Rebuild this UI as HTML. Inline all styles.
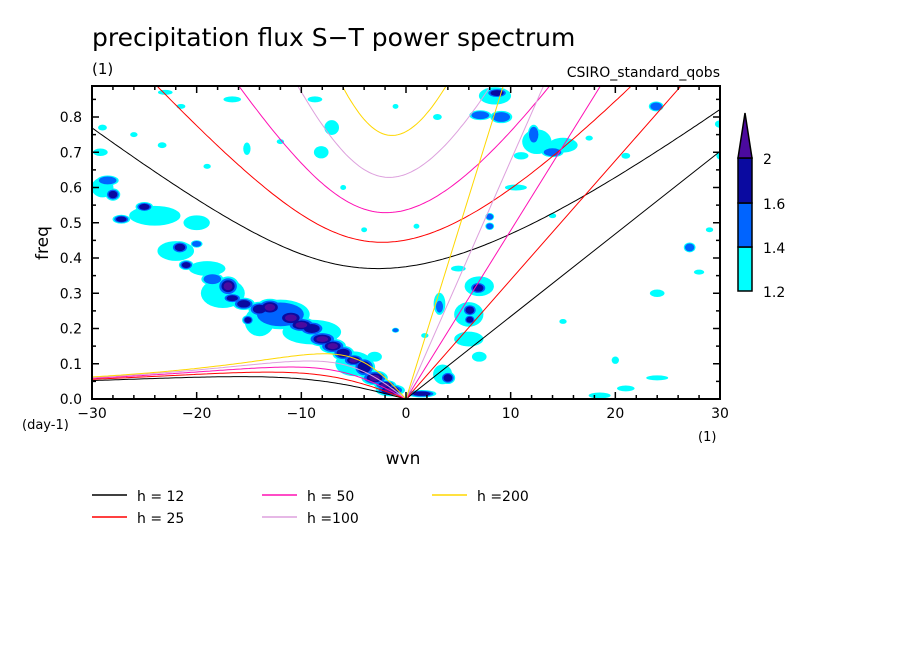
<!DOCTYPE html>
<html><head><meta charset="utf-8"><style>
body{margin:0;background:#fff;width:904px;height:654px;overflow:hidden}
svg{display:block;font-family:"DejaVu Sans","Liberation Sans",sans-serif}
</style></head><body>
<svg id="chart" width="904" height="654">
<defs><clipPath id="clip"><rect x="92" y="86" width="628" height="313"/></clipPath></defs>
<text x="92" y="46" font-size="25">precipitation flux S−T power spectrum</text>
<text x="92" y="74" font-size="15">(1)</text>
<text x="720" y="77" font-size="14" text-anchor="end">CSIRO_standard_qobs</text>
<g id="blobs" clip-path="url(#clip)"></g>
<g id="curves" clip-path="url(#clip)"></g>
<g id="axes"></g>
<text x="48" y="243" font-size="17" text-anchor="middle" transform="rotate(-90 48 243)">freq</text>
<text x="22" y="429" font-size="13">(day-1)</text>
<text x="698" y="441" font-size="13">(1)</text>
<text x="403" y="464" font-size="17" text-anchor="middle">wvn</text>
<g id="legend"></g>
<g id="cbar"></g>
</svg>
<script>
const hVals=[12,25,50,100,200];
const hLabels=["h = 12","h = 25","h = 50","h =100","h =200"];
const blobK=[-29,-28,-28.5,-25,-27.2,-24,-20,-21.6,-21,-20,-22,-19,-17,-16.6,-17.5,-15.1,-14,-13,-11,-9,-8,-12,-9,-14,-6,-4,-3,-1.5,-5,-3,1.5,
6.9,7,6.1,6.1,6,3.2,3.2,4,3.5,8.7,8.5,12.2,12.5,9.1,7.1,8,8,14,15,23.9,27.1,6,7,
-16.6,-21.5,-23.3,-15.2,-8.1,-7.1,-8.7,-29.2,-1,-23,-1,-6,5,1.8,10.5,11,18.5,21,20,24,29,28,15,14,17.5,21,30,24,30,3,1,-4,-12,-19,-26,-29,
-10,-7,-5,-2,-15.5,-18.5];
const blobF=[0.6,0.58,0.62,0.545,0.51,0.52,0.5,0.43,0.38,0.44,0.42,0.37,0.32,0.286,0.3,0.224,0.255,0.26,0.23,0.2,0.17,0.24,0.19,0.22,0.13,0.09,0.06,0.025,0.1,0.12,0.015,
0.315,0.32,0.252,0.225,0.24,0.262,0.27,0.06,0.07,0.868,0.86,0.75,0.73,0.8,0.805,0.517,0.49,0.7,0.72,0.83,0.43,0.17,0.12,
0.85,0.83,0.72,0.71,0.7,0.77,0.85,0.7,0.83,0.87,0.195,0.6,0.37,0.18,0.6,0.69,0.01,0.03,0.11,0.3,0.48,0.36,0.22,0.52,0.74,0.69,0.78,0.06,0.69,0.8,0.49,0.48,0.73,0.66,0.75,0.77,
0.21,0.15,0.11,0.04,0.27,0.34];
const blobRK=[1.5,1,1.5,1.2,1.2,3.5,1.8,1.2,1,0.8,2.5,2.5,1.5,1.3,3,0.8,1.5,1.8,2,1.8,2,4,4,2,1.5,1.5,1.8,2,2.5,1,2,
1.2,2,1,0.8,2,0.6,0.8,1,1.3,1.5,2.2,0.8,2,1.5,1.5,0.6,0.6,1.5,2,1,0.8,2,1,
1.2,0.6,0.6,0.5,1,1,1,1,0.4,1,0.5,0.4,1,0.5,1.5,1,1.5,1.2,0.5,1,0.5,0.7,0.5,0.5,0.5,0.6,0.7,1.5,0.5,0.6,0.4,0.4,0.5,0.5,0.5,0.6,
2,1.8,1.5,1.5,1.5,1.5];
const blobRF=[0.04,0.025,0.02,0.02,0.018,0.04,0.03,0.025,0.02,0.015,0.04,0.03,0.04,0.02,0.06,0.02,0.03,0.035,0.035,0.03,0.03,0.06,0.05,0.06,0.03,0.04,0.03,0.025,0.05,0.02,0.015,
0.025,0.04,0.025,0.02,0.05,0.03,0.045,0.025,0.04,0.02,0.035,0.04,0.05,0.025,0.02,0.015,0.015,0.02,0.03,0.02,0.02,0.03,0.02,
0.012,0.01,0.012,0.025,0.025,0.03,0.012,0.015,0.01,0.01,0.01,0.01,0.012,0.01,0.012,0.015,0.012,0.012,0.015,0.015,0.01,0.01,0.01,0.01,0.01,0.012,0.015,0.01,0.015,0.012,0.01,0.01,0.01,0.01,0.01,0.012,
0.03,0.03,0.025,0.02,0.025,0.025];
const blobLv=[1,3,2,3,3,1,1,3,3,2,1,1,4,3,1,3,3,4,4,3,4,2,1,1,3,3,4,4,1,1,3,
3,1,3,3,1,2,1,3,1,3,1,2,1,2,2,2,2,2,1,2,2,1,1,
1,1,1,1,1,1,1,1,1,1,2,1,1,1,1,1,1,1,1,1,1,1,1,1,1,1,1,1,1,1,1,1,1,1,1,1,
4,4,4,4,3,2];
const xTicks=[-30,-20,-10,0,10,20,30];
const yTicks=[0,0.1,0.2,0.3,0.4,0.5,0.6,0.7,0.8];
const cbLabels=["1.2","1.4","1.6","2"];

const NS="http://www.w3.org/2000/svg";
const X0=92,X1=720,Y0=399,Y1=86,FMAX=(399-86)/352.5;
const sx=k=>X0+(k+30)/60*(X1-X0);
const sy=f=>Y0-f/FMAX*(Y0-Y1);
function mk(tag,attrs,parent){const e=document.createElementNS(NS,tag);for(const a in attrs)e.setAttribute(a,attrs[a]);parent.appendChild(e);return e;}
const lvColors=["#00FFFF","#0064FF","#0A0AA0","#4B0A9E"];
const blobsG=document.getElementById('blobs');
const SHRINK=0.7;
for(let j=0;j<4;j++){
 for(let i=0;i<blobK.length;i++){
  if(blobLv[i]<=j)continue;
  const s=SHRINK*(1-j*0.2);
  const e=mk('ellipse',{cx:sx(blobK[i]),cy:sy(blobF[i]),rx:blobRK[i]*s*(X1-X0)/60,ry:blobRF[i]*s*(Y0-Y1)/FMAX,fill:lvColors[j]},blobsG);
  
  
 }
}
const colors=["#000000","#FF0000","#FF10B4","#DDA0DD","#FFD700"];
const beta=2.29e-11,R=6.371e6,g=9.81,cpd=86400/(2*Math.PI);
function roots(k,c){const kr=k/R;const A=c*c*kr*kr+3*beta*c;const q=-beta*c*c*kr;
  const m=2*Math.sqrt(A/3);
  const arg=(3*q/(2*(-A)))*Math.sqrt(3/A);const t=Math.acos(Math.max(-1,Math.min(1,arg)))/3;
  return [0,1,2].map(j=>m*Math.cos(t-2*Math.PI*j/3)).sort((a,b)=>a-b);}
const curvesG=document.getElementById('curves');
hVals.forEach((h,i)=>{
  const c=Math.sqrt(g*h);let ig=[],ro=[];
  for(let k=-30;k<=30.001;k+=0.25){const r=roots(k,c);ig.push(sx(k).toFixed(1)+","+sy(r[2]*cpd).toFixed(1));
    if(k<=0)ro.push(sx(k).toFixed(1)+","+sy(Math.max(0,r[1])*cpd).toFixed(1));}
  const kv=[sx(0)+","+sy(0),sx(30)+","+sy(c*30/R*cpd)];
  [[ig,'ig-curve'],[ro,'rossby-curve'],[kv,'kelvin-line']].forEach(([pts,nm])=>{
    const p=mk('polyline',{points:pts.join(' '),fill:'none',stroke:colors[i],'stroke-width':1},curvesG);
    
    
  });
});
const ax=document.getElementById('axes');
mk('rect',{x:X0,y:Y1,width:X1-X0,height:Y0-Y1,fill:'none',stroke:'#000','stroke-width':2},ax);
for(let k=-30;k<=30;k+=2){const L=(k%10===0)?7:4;mk('line',{x1:sx(k),x2:sx(k),y1:Y0,y2:Y0-L,stroke:'#000','stroke-width':1.5},ax);mk('line',{x1:sx(k),x2:sx(k),y1:Y1,y2:Y1+L,stroke:'#000','stroke-width':1.5},ax);}
for(let f=0;f<=FMAX;f+=0.05){const L=(Math.round(f*100)%10===0)?7:4;mk('line',{x1:X0,x2:X0+L,y1:sy(f),y2:sy(f),stroke:'#000','stroke-width':1.5},ax);mk('line',{x1:X1,x2:X1-L,y1:sy(f),y2:sy(f),stroke:'#000','stroke-width':1.5},ax);}
xTicks.forEach(k=>{const t=mk('text',{x:sx(k),y:418,'font-size':14,'text-anchor':'middle'},ax);t.textContent=k<0?'−'+(-k):k;
  
  });
yTicks.forEach(f=>{const t=mk('text',{x:82,y:sy(f)+5,'font-size':14,'text-anchor':'end'},ax);t.textContent=f.toFixed(1);
  
  });
const lg=document.getElementById('legend');
const lx=[92,92,262,262,432],ly=[495,517,495,517,495];
hVals.forEach((h,i)=>{
  const l=mk('line',{x1:lx[i],x2:lx[i]+35,y1:ly[i],y2:ly[i],stroke:colors[i],'stroke-width':1.5},lg);
  
  
  const t=mk('text',{x:lx[i]+45,y:ly[i]+6,'font-size':14},lg);t.textContent=hLabels[i];
  
  
});
const cb=document.getElementById('cbar');
const cbY=[291,247,203,158];
mk('rect',{x:738,y:cbY[1],width:14,height:cbY[0]-cbY[1],fill:lvColors[0],stroke:'#000','stroke-width':1.5},cb);
mk('rect',{x:738,y:cbY[2],width:14,height:cbY[1]-cbY[2],fill:lvColors[1],stroke:'#000','stroke-width':1.5},cb);
mk('rect',{x:738,y:cbY[3],width:14,height:cbY[2]-cbY[3],fill:lvColors[2],stroke:'#000','stroke-width':1.5},cb);
mk('polygon',{points:'738,158 752,158 745,113',fill:lvColors[3],stroke:'#000','stroke-width':1.5},cb);
cbLabels.forEach((s,i)=>{const t=mk('text',{x:763,y:cbY[i]+6,'font-size':14},cb);t.textContent=s;
  
  });
</script>
</body></html>
